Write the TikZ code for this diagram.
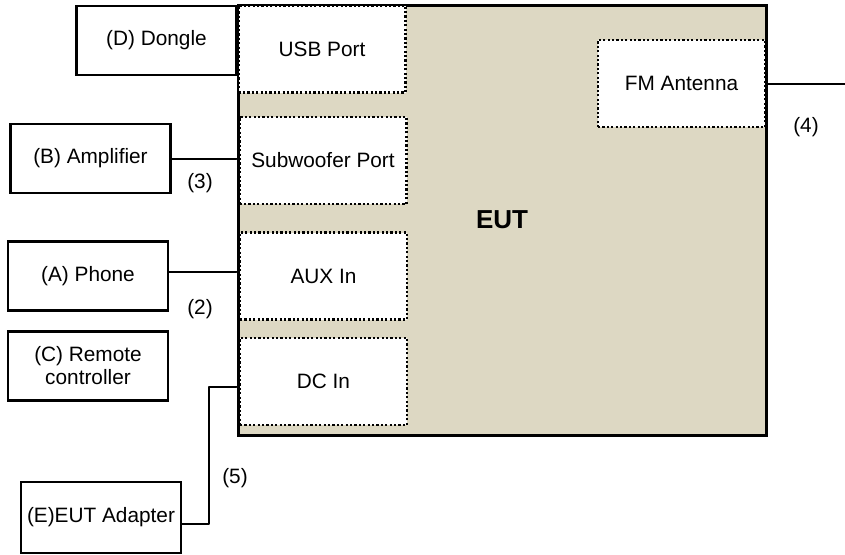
\documentclass[tikz,border=0pt]{standalone}
\usepackage{fontspec}
\setmainfont{Liberation Sans}
\usepackage{tikz}
\definecolor{eutfill}{RGB}{221,216,195}

\begin{document}
\begin{tikzpicture}[line cap=round,line join=round,x=0.5pt,y=-0.5pt,
	every node/.style={font=\fontsize{10.4}{11.5}\selectfont},
	device/.style={draw,line width=1.25pt,line join=miter,minimum width=80pt,minimum height=34.5pt,inner sep=0pt,align=center},
	port/.style={draw,fill=white,line width=1.2pt,line cap=butt,dash pattern=on 1.1pt off 1.1pt,minimum width=83.5pt,minimum height=43.5pt,inner sep=0pt},
	cable/.style={line width=1pt}]
			\useasboundingbox (0,0) rectangle (845,554);
			%%%% EUT
			\node[draw,fill=eutfill,line width=1.5pt,line join=miter,minimum width=264pt,minimum height=215pt,inner sep=0pt,font=\bfseries\fontsize{13}{15}\selectfont] (eut) at (502,220) {EUT};
			
			%%%% PUERTOS
			\node[port] (usb) at (322,49) {USB Port};
			\node[port] (sub) at (323,160.5) {Subwoofer Port};
			\node[port] (aux) at (323.5,276) {AUX In};
			\node[port] (dc) at (323.5,381.5) {DC In};
			\node[port] (fm) at (681.5,83.5) {FM Antenna};
			
			%%%% EQUIPOS
			\node[device] (dongle) at (156.5,40.5) {(D) Dongle};
			\node[device] (amp) at (90.5,158.5) {(B) Amplifier};
			\node[device] (phone) at (88,276) {(A) Phone};
			\node[device] (remote) at (88,366) {(C) Remote\\controller};
			\node[device,minimum height=35.5pt] (adapter) at (101,517.5) {(E)EUT Adapter};
			
			%%%% CABLES
			\draw[cable] (amp.east) -- (amp.east -| eut.west);
			\draw[cable] ([yshift=2pt]phone.east) -- ([yshift=2pt]phone.east -| eut.west);
			\draw[cable] ([yshift=-3.25pt]adapter.east) -- ++(27,0) |- ([yshift=-2.75pt]dc.west -| eut.west);
			
			\coordinate (antend) at (845,0);
			\draw[cable] (fm.east) -- (fm.east -| antend);
			
			%%%% NUMEROS
			\node (l3) at (200,183) {(3)};
			\node (l2) at (200,309) {(2)};
			\node (l5) at (235,478) {(5)};
			\node (l4) at (806,127) {(4)};
		\end{tikzpicture}
\end{document}
